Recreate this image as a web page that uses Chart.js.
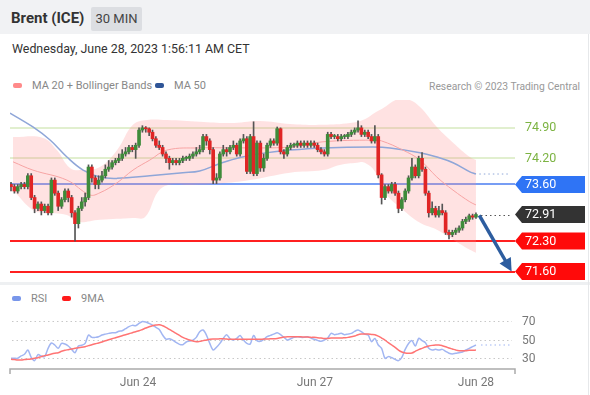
<!DOCTYPE html>
<html>
<head>
<meta charset="utf-8">
<script src="https://cdn.jsdelivr.net/npm/chart.js@4.4.0/dist/chart.umd.min.js"></script>
<style>
  body { margin: 0; width: 590px; height: 395px; overflow: hidden; background: #fff; position: relative; font-family: Roboto, Arial, sans-serif; }
  #hdr { position: absolute; left: 0; top: 0; width: 590px; height: 34px; background: #f1f2f4; }
  #title { position: absolute; left: 11px; top: 9px; font-size: 15px; font-weight: bold; color: #333; }
  #badge { position: absolute; left: 91px; top: 7px; width: 51px; height: 24px; line-height: 24px; background: #dcdee2; color: #444; font-size: 13px; text-align: center; border-radius: 2px; }
  #date { position: absolute; left: 12px; top: 41px; font-size: 12.4px; color: #333; }
  .leg { position: absolute; font-size: 11px; color: #888; white-space: nowrap; }
  .sw { display: inline-block; width: 9px; height: 5px; border-radius: 2px; margin-right: 10px; vertical-align: middle; position: relative; top: -1px; }
  #credit { position: absolute; right: 10px; top: 80px; font-size: 10.3px; color: #999; }
  #sep { position: absolute; left: 0; top: 282px; width: 590px; height: 3px; background: #eef0f2; }
  #vline { position: absolute; left: 588px; top: 34px; width: 1px; height: 361px; background: #e6e8ea; }
  canvas { position: absolute; left: 0; }
  #main { top: 100px; }
  #rsi { top: 305px; }
</style>
</head>
<body>
<div id="hdr"><span id="title">Brent (ICE)</span><span id="badge">30 MIN</span></div>
<div id="date">Wednesday, June 28, 2023 1:56:11 AM CET</div>
<div class="leg" style="left:13px;top:79px"><span class="sw" style="background:#ff8a8a"></span>MA 20 + Bollinger Bands</div>
<div class="leg" style="left:155px;top:79px"><span class="sw" style="background:#2f5597"></span>MA 50</div>
<div id="credit">Research © 2023 Trading Central</div>
<div id="sep"></div>
<div class="leg" style="left:12px;top:292px"><span class="sw" style="background:#7896ea"></span>RSI</div>
<div class="leg" style="left:62px;top:292px"><span class="sw" style="background:#ff1a1a"></span>9MA</div>
<div id="vline"></div>
<canvas id="main" width="590" height="182"></canvas>
<canvas id="rsi" width="590" height="90"></canvas>
<script>
// 30 min candles, oldest first
const opens = [
  73.6, 73.55, 73.45, 73.55, 73.6, 73.55, 73.8, 73.3, 73.05, 73.15,
  73.0, 73.1, 72.95, 73.7, 73.4, 73.1, 73.25, 73.45, 73.3, 72.95,
  72.7, 73.05, 73.2, 73.3, 74.0, 73.75, 73.6, 73.7, 73.8, 73.95,
  74.0, 74.1, 74.15, 74.2, 74.3, 74.35, 74.45, 74.4, 74.5, 74.85,
  74.9, 74.88, 74.8, 74.65, 74.5, 74.45, 74.3, 74.2, 74.1, 74.15,
  74.1, 74.15, 74.2, 74.2, 74.25, 74.3, 74.35, 74.4, 74.7, 74.6,
  74.4, 73.7, 73.75, 74.3, 74.4, 74.35, 74.45, 74.5, 74.3, 74.6,
  74.65, 73.9, 74.7, 73.85, 74.55, 73.98, 74.2, 74.5, 74.6, 74.55,
  74.88, 74.35, 74.3, 74.45, 74.5, 74.5, 74.55, 74.5, 74.55, 74.5,
  74.55, 74.5, 74.4, 74.35, 74.3, 74.75, 74.7, 74.7, 74.65, 74.7,
  74.7, 74.75, 74.8, 74.85, 74.9, 74.75, 74.8, 74.7, 74.6, 74.7,
  73.82, 73.3, 73.55, 73.45, 73.6, 73.4, 73.05, 73.25, 73.45, 73.75,
  74.0, 73.8, 74.2, 73.95, 73.4, 72.95, 73.05, 72.9, 73.0, 72.95,
  72.5, 72.45, 72.5, 72.55, 72.6, 72.75, 72.8, 72.88, 72.85
];
const closes = [
  73.55, 73.45, 73.55, 73.6, 73.55, 73.8, 73.3, 73.05, 73.15, 73.0,
  73.1, 72.95, 73.7, 73.4, 73.1, 73.25, 73.45, 73.3, 72.95, 72.7,
  73.05, 73.2, 73.3, 74.0, 73.75, 73.6, 73.7, 73.8, 73.95, 74.0,
  74.1, 74.15, 74.2, 74.3, 74.35, 74.45, 74.4, 74.5, 74.85, 74.9,
  74.88, 74.8, 74.65, 74.5, 74.45, 74.3, 74.2, 74.1, 74.15, 74.1,
  74.15, 74.2, 74.2, 74.25, 74.3, 74.35, 74.4, 74.7, 74.6, 74.4,
  73.7, 73.75, 74.3, 74.4, 74.35, 74.45, 74.5, 74.3, 74.6, 74.65,
  73.9, 74.7, 73.85, 74.55, 73.98, 74.2, 74.5, 74.6, 74.55, 74.88,
  74.35, 74.3, 74.45, 74.5, 74.5, 74.55, 74.5, 74.55, 74.5, 74.55,
  74.5, 74.4, 74.35, 74.3, 74.75, 74.7, 74.7, 74.65, 74.7, 74.7,
  74.75, 74.8, 74.85, 74.9, 74.75, 74.8, 74.7, 74.6, 74.7, 73.82,
  73.3, 73.55, 73.45, 73.6, 73.4, 73.05, 73.25, 73.45, 73.75, 74.0,
  73.8, 74.2, 73.95, 73.4, 72.95, 73.05, 72.9, 73.0, 72.95, 72.5,
  72.45, 72.5, 72.55, 72.6, 72.75, 72.8, 72.88, 72.85, 72.91
];
const highs = [
  73.65, 73.6, 73.6, 73.65, 73.65, 73.85, 73.85, 73.35, 73.2, 73.2,
  73.15, 73.15, 73.75, 73.75, 73.45, 73.3, 73.5, 73.5, 73.35, 73.0,
  73.1, 73.3, 73.4, 74.05, 74.05, 73.8, 73.8, 73.9, 74.05, 74.15,
  74.15, 74.2, 74.3, 74.4, 74.45, 74.5, 74.5, 74.55, 74.9, 74.95,
  74.93, 74.9, 74.85, 74.7, 74.6, 74.5, 74.35, 74.25, 74.2, 74.2,
  74.2, 74.25, 74.25, 74.3, 74.35, 74.45, 74.5, 74.75, 74.75, 74.65,
  74.45, 73.85, 74.35, 74.5, 74.45, 74.5, 74.6, 74.55, 74.65, 74.75,
  74.7, 74.75, 75.04, 74.6, 74.6, 74.3, 74.55, 74.65, 74.65, 74.92,
  74.9, 74.4, 74.5, 74.55, 74.55, 74.6, 74.6, 74.6, 74.6, 74.6,
  74.6, 74.55, 74.45, 74.4, 74.8, 74.8, 74.75, 74.75, 74.75, 74.75,
  74.8, 74.85, 74.9, 75.06, 74.95, 74.85, 74.85, 74.75, 74.95, 74.75,
  73.85, 73.6, 73.6, 73.65, 73.65, 73.45, 73.3, 73.5, 73.8, 74.2,
  74.05, 74.25, 74.33, 74.0, 73.45, 73.2, 73.1, 73.1, 73.15, 73.0,
  72.55, 72.55, 72.6, 72.65, 72.8, 72.85, 72.92, 72.92, 72.95
];
const lows = [
  73.45, 73.4, 73.4, 73.5, 73.5, 73.5, 73.25, 72.95, 73.0, 72.9,
  72.95, 72.9, 72.9, 73.35, 73.0, 73.05, 73.2, 73.2, 72.85, 72.3,
  72.6, 73.0, 73.1, 73.25, 73.65, 73.5, 73.5, 73.65, 73.75, 73.9,
  73.95, 74.05, 74.1, 74.15, 74.25, 74.3, 74.35, 74.2, 74.45, 74.8,
  74.8, 74.72, 74.6, 74.45, 74.4, 74.25, 74.1, 73.95, 74.05, 74.05,
  74.05, 74.1, 74.15, 74.15, 74.2, 74.25, 74.3, 74.35, 74.5, 74.3,
  73.62, 73.62, 73.7, 74.25, 74.25, 74.3, 74.4, 74.25, 74.25, 74.55,
  73.85, 73.85, 73.8, 73.8, 73.9, 73.9, 74.15, 74.45, 74.5, 74.5,
  74.3, 74.2, 74.25, 74.4, 74.45, 74.45, 74.45, 74.45, 74.45, 74.45,
  74.45, 74.35, 74.3, 74.25, 74.25, 74.65, 74.65, 74.6, 74.6, 74.65,
  74.65, 74.7, 74.75, 74.8, 74.7, 74.7, 74.65, 74.55, 74.55, 73.75,
  73.15, 73.25, 73.4, 73.4, 73.35, 72.95, 73.0, 73.2, 73.4, 73.7,
  73.75, 73.75, 73.9, 73.35, 72.85, 72.9, 72.85, 72.85, 72.9, 72.45,
  72.35, 72.4, 72.45, 72.5, 72.55, 72.7, 72.75, 72.8, 72.82
];

// overlays, read as (candle index, price)
const ma20X = [0.6, 6.5, 16.6, 23.4, 26.4, 31.5, 36.2, 41.2, 46.3, 56, 68, 82.8, 92.6, 107.4, 110, 116.3, 121.4, 126.4, 131.2, 136.2, 138];
const ma20 = [74.12, 73.93, 73.7, 73.36, 73.41, 73.64, 73.93, 74.16, 74.39, 74.44, 74.44, 74.46, 74.58, 74.62, 74.6, 74.39, 74.16, 73.77, 73.47, 73.2, 73.13];
const upperX = [0.6, 9.5, 13.6, 17.5, 21.4, 26.4, 31.5, 36.2, 40.4, 46.3, 56, 65, 73.9, 82.8, 92.6, 100.6, 105, 108, 110.4, 114.5, 118, 121.4, 126.4, 131.2, 136.2, 138];
const upper = [74.69, 74.67, 74.39, 73.98, 73.93, 74.0, 74.39, 74.97, 75.08, 75.08, 75.04, 75.01, 75.06, 74.99, 74.97, 75.01, 75.1, 75.25, 75.35, 75.55, 75.55, 75.38, 74.92, 74.56, 74.23, 74.16];
const lowerX = [0.6, 6.5, 9.5, 16.6, 19.6, 26.4, 36.2, 39.8, 43.6, 46.6, 53.7, 62, 70.9, 82.8, 92.6, 97.6, 102.7, 105, 108, 110.5, 116.3, 121.4, 126.4, 131.2, 136.2, 138];
const lower = [73.47, 73.01, 72.95, 72.9, 72.74, 72.79, 72.83, 72.85, 73.43, 73.59, 73.59, 73.62, 73.7, 73.87, 73.93, 74.05, 74.1, 74.1, 73.9, 73.45, 73.02, 72.72, 72.56, 72.33, 72.1, 72.03];
const ma50X = [-0.3, 6.5, 11.6, 16.6, 21.4, 26.4, 31.5, 41.2, 51, 56, 62, 68, 75, 82.8, 92.6, 107.4, 112.5, 121.4, 126.4, 131.2, 136.2, 138];
const ma50 = [75.24, 74.92, 74.62, 74.23, 73.93, 73.77, 73.74, 73.8, 73.87, 73.91, 74.08, 74.22, 74.32, 74.39, 74.44, 74.46, 74.44, 74.33, 74.23, 74.1, 73.89, 73.84];

// levels on the right
const levelValues = [74.90, 74.20, 73.60, 72.30, 71.60];
const levelKinds = ['res', 'res', 'pivot', 'sup', 'sup'];
const lastPrice = 72.91;
const arrowFrom = [139, 72.89];
const arrowTo = [148.6, 71.6];

// RSI panel
const rsi = [
  30, 30, 30, 32.5, 34.3, 38.9, 31, 27.5, 34, 32.5,
  31.8, 40.7, 46.4, 44.3, 40.7, 46, 45.4, 43.2, 39.6, 36,
  43.2, 44, 46, 55, 52.5, 52.5, 53.2, 55, 56, 56.8,
  57.5, 57.5, 59, 59.6, 61.8, 64, 65.4, 65, 67.5, 69.6,
  69, 67.5, 65.7, 63.2, 61, 55, 50.7, 51, 49.6, 47,
  45, 44.6, 47.5, 48.6, 49.6, 52.5, 58.6, 60.4, 55, 46,
  38.9, 41.8, 46, 51.4, 55.4, 51, 49.6, 51.4, 54.6, 49.6,
  46, 45.4, 54.6, 49, 48.2, 50.4, 53.2, 54.6, 56, 57.5,
  55.4, 52.5, 49.6, 51, 52.5, 53.2, 52.5, 52.5, 53.2, 51.8,
  50.4, 49.3, 48.2, 49.6, 51.8, 56.8, 55.4, 56, 56.8, 55.4,
  56, 56.8, 59, 60.4, 58.6, 56, 55, 47.9, 51.4, 44.3,
  40.7, 30, 31.8, 30.7, 28.9, 27.5, 31, 39.6, 46, 49,
  43.2, 51.4, 49, 46.8, 40.7, 38.9, 39.6, 38.9, 39.6, 37.5,
  35.4, 34.6, 35.4, 36, 36.8, 38.9, 40.7, 42.5, 44.3
];
const rsiMa = [
  29, 28.6, 28.2, 28.2, 28.6, 29, 29.3, 30, 30.7, 31.8,
  32.9, 33.6, 34.6, 35.4, 36, 37.5, 38.6, 39.3, 40, 40.7,
  41.4, 41.8, 42.5, 43.6, 44.6, 45.7, 46.4, 47.5, 48.9, 50,
  51, 52.1, 53.2, 54.3, 55.4, 56.4, 57.5, 58.6, 59.6, 61,
  62.5, 63.9, 65, 65.7, 66, 65, 63.2, 61, 58.9, 56.8,
  54.6, 52.5, 51, 49.6, 48.6, 47.9, 48.2, 49, 49.6, 50.4,
  50.7, 50.7, 51, 51, 50.7, 50.4, 50.4, 50.4, 50.4, 50.4,
  50.4, 50.4, 50.4, 50.4, 50.4, 50.7, 50.7, 51, 51, 51.4,
  52.1, 52.8, 53.2, 53.2, 53.2, 53.2, 53.2, 52.8, 52.8, 52.5,
  52.5, 52.1, 51.8, 51.4, 51.4, 51.8, 51.8, 51.8, 51.8, 52.1,
  52.5, 53.2, 53.9, 55.4, 56, 56, 56, 55.7, 55.4, 53.9,
  51.8, 49.6, 46.8, 44.3, 41.8, 38.9, 36.8, 35.7, 35.4, 35.7,
  37.5, 39.3, 40.7, 42.1, 43.2, 43.9, 44.3, 44.3, 43.6, 42.5,
  41.1, 40, 38.9, 38.2, 38.2, 38.2, 38.6, 38.6, 38.9
];
const rsiLevels = [30, 50, 70];
const dayTickIndex = [37.7, 90.2, 138];
const dayTickLabels = ['Jun 24', 'Jun 27', 'Jun 28'];

const xMin = -0.3, xMax = 148.7;
const FONT = 'Roboto, Arial, sans-serif';

function pts(xs, ys) {
  return ys.map((v, i) => ({ x: xs[i], y: v }));
}

const levelStyles = {
  res: { line: '#c3df9e', width: 1, text: '#7cb342' },
  pivot: { line: '#4a7cf0', width: 1.5, box: '#2f74f5' },
  sup: { line: '#ff2020', width: 2, box: '#ff0a0a' }
};

function tagBox(ctx, left, cy, color, text) {
  ctx.fillStyle = color;
  ctx.beginPath();
  ctx.moveTo(left, cy);
  ctx.lineTo(left + 7, cy - 8.5);
  ctx.lineTo(585, cy - 8.5);
  ctx.lineTo(585, cy + 8.5);
  ctx.lineTo(left + 7, cy + 8.5);
  ctx.closePath();
  ctx.fill();
  ctx.fillStyle = '#fff';
  ctx.fillText(text, left + 10, cy + 0.5);
}

const levelPlugin = {
  id: 'levels',
  beforeDatasetsDraw(chart) {
    const { ctx, chartArea: a, scales: { y } } = chart;
    levelValues.forEach((v, k) => {
      const st = levelStyles[levelKinds[k]];
      const py = Math.round(y.getPixelForValue(v));
      ctx.save();
      ctx.strokeStyle = st.line;
      ctx.lineWidth = st.width;
      ctx.beginPath();
      ctx.moveTo(a.left, py);
      ctx.lineTo(a.right + 3, py);
      ctx.stroke();
      ctx.restore();
    });
  },
  afterDatasetsDraw(chart) {
    const { ctx, chartArea: a, scales: { x, y } } = chart;
    ctx.save();
    // dotted extensions
    ctx.setLineDash([1.5, 3]);
    ctx.lineWidth = 1;
    ctx.strokeStyle = '#8fa6d8';
    const pm = y.getPixelForValue(ma50[ma50.length - 1]);
    ctx.beginPath(); ctx.moveTo(x.getPixelForValue(139), pm); ctx.lineTo(a.right - 2, pm); ctx.stroke();
    ctx.strokeStyle = '#555';
    const pl = Math.round(y.getPixelForValue(lastPrice)) + 0.5;
    ctx.beginPath(); ctx.moveTo(x.getPixelForValue(139.5), pl); ctx.lineTo(a.right, pl); ctx.stroke();
    ctx.setLineDash([]);

    // arrow
    const x0 = x.getPixelForValue(arrowFrom[0]), y0 = y.getPixelForValue(arrowFrom[1]);
    const x1 = x.getPixelForValue(arrowTo[0]), y1 = y.getPixelForValue(arrowTo[1]);
    const ang = Math.atan2(y1 - y0, x1 - x0);
    const c = Math.cos(ang), s = Math.sin(ang);
    ctx.strokeStyle = '#2d5d9f';
    ctx.fillStyle = '#2d5d9f';
    ctx.lineWidth = 3.5;
    ctx.beginPath(); ctx.moveTo(x0, y0); ctx.lineTo(x1 - 9 * c, y1 - 9 * s); ctx.stroke();
    ctx.beginPath();
    ctx.moveTo(x1, y1);
    ctx.lineTo(x1 - 13 * c - 6.5 * s, y1 - 13 * s + 6.5 * c);
    ctx.lineTo(x1 - 13 * c + 6.5 * s, y1 - 13 * s - 6.5 * c);
    ctx.closePath();
    ctx.fill();

    // labels
    ctx.font = '12.5px ' + FONT;
    ctx.textBaseline = 'middle';
    ctx.textAlign = 'left';
    const left = a.right + 3;
    levelValues.forEach((v, k) => {
      const st = levelStyles[levelKinds[k]];
      const py = y.getPixelForValue(v);
      if (st.text) {
        ctx.fillStyle = st.text;
        ctx.fillText(v.toFixed(2), left + 10, py + 0.5);
      } else {
        tagBox(ctx, left, py, st.box, v.toFixed(2));
      }
    });
    tagBox(ctx, left, y.getPixelForValue(lastPrice), '#333', lastPrice.toFixed(2));
    ctx.restore();
  }
};

new Chart(document.getElementById('main'), {
  data: {
    datasets: [
      { type: 'line', data: pts(upperX, upper), borderWidth: 0, pointRadius: 0, tension: 0.4,
        fill: '+1', backgroundColor: 'rgba(255, 140, 140, 0.25)', order: 6 },
      { type: 'line', data: pts(lowerX, lower), borderWidth: 0, pointRadius: 0, tension: 0.4,
        fill: false, order: 6 },
      { type: 'line', data: pts(ma20X, ma20), borderColor: '#f7a3a3', borderWidth: 1, pointRadius: 0,
        tension: 0.4, fill: false, order: 5 },
      { type: 'line', data: pts(ma50X, ma50), borderColor: '#8fa6d8', borderWidth: 1.5, pointRadius: 0,
        tension: 0.4, fill: false, order: 5 },
      { type: 'bar', data: lows.map((v, i) => ({ x: i, y: [v, highs[i]] })), backgroundColor: '#555',
        barThickness: 1, grouped: false, order: 2 },
      { type: 'bar', data: opens.map((v, i) => ({ x: i, y: [v, closes[i]] })),
        backgroundColor: closes.map((v, i) => v >= opens[i] ? '#3e8b3a' : '#e02525'),
        barThickness: 3, minBarLength: 1, grouped: false, order: 1 }
    ]
  },
  options: {
    responsive: false,
    animation: false,
    layout: { padding: { left: 10, right: 78, top: 0, bottom: 0 } },
    plugins: { legend: { display: false }, tooltip: { enabled: false } },
    scales: {
      x: { type: 'linear', min: xMin, max: xMax, offset: false, display: false },
      y: { min: 71.36, max: 75.54, display: false }
    }
  },
  plugins: [levelPlugin]
});

const rsiPlugin = {
  id: 'rsiExtras',
  beforeDatasetsDraw(chart) {
    const { ctx, chartArea: a, scales: { x, y } } = chart;
    ctx.save();
    ctx.setLineDash([1.5, 3]);
    ctx.strokeStyle = '#c8c8c8';
    ctx.lineWidth = 1;
    ctx.font = '12px ' + FONT;
    ctx.fillStyle = '#777';
    ctx.textBaseline = 'middle';
    ctx.textAlign = 'left';
    rsiLevels.forEach(v => {
      const py = Math.round(y.getPixelForValue(v)) + 0.5;
      ctx.beginPath(); ctx.moveTo(a.left + 2, py); ctx.lineTo(a.right, py); ctx.stroke();
      ctx.fillText(String(v), a.right + 10, py);
    });
    ctx.setLineDash([]);
    // x axis
    ctx.strokeStyle = '#aaa';
    ctx.lineWidth = 1.5;
    ctx.beginPath();
    ctx.moveTo(a.left, a.bottom + 5); ctx.lineTo(a.left, a.bottom);
    ctx.lineTo(a.right + 3, a.bottom); ctx.lineTo(a.right + 3, a.bottom + 5);
    ctx.stroke();
    ctx.textAlign = 'center';
    dayTickIndex.forEach((v, k) => {
      ctx.fillText(dayTickLabels[k], x.getPixelForValue(v), a.bottom + 14);
    });
    ctx.restore();
  },
  afterDatasetsDraw(chart) {
    const { ctx, chartArea: a, scales: { x, y } } = chart;
    ctx.save();
    ctx.setLineDash([1.5, 3]);
    ctx.strokeStyle = '#9fb4f2';
    ctx.lineWidth = 1.2;
    const py = y.getPixelForValue(rsi[rsi.length - 1]);
    ctx.beginPath(); ctx.moveTo(x.getPixelForValue(139.5), py); ctx.lineTo(a.right - 2, py); ctx.stroke();
    ctx.restore();
  }
};

new Chart(document.getElementById('rsi'), {
  type: 'line',
  data: {
    datasets: [
      { data: rsi.map((v, i) => ({ x: i, y: v })), borderColor: '#a2b6f2', borderWidth: 1.5,
        pointRadius: 0, tension: 0.3, order: 2 },
      { data: rsiMa.map((v, i) => ({ x: i, y: v })), borderColor: '#ff7474', borderWidth: 1.5,
        pointRadius: 0, tension: 0.4, order: 1 }
    ]
  },
  options: {
    responsive: false,
    animation: false,
    layout: { padding: { left: 10, right: 78, top: 0, bottom: 26 } },
    plugins: { legend: { display: false }, tooltip: { enabled: false } },
    scales: {
      x: { type: 'linear', min: xMin, max: xMax, display: false },
      y: { min: 18.5, max: 87.3, display: false }
    }
  },
  plugins: [rsiPlugin]
});
</script>
</body>
</html>
